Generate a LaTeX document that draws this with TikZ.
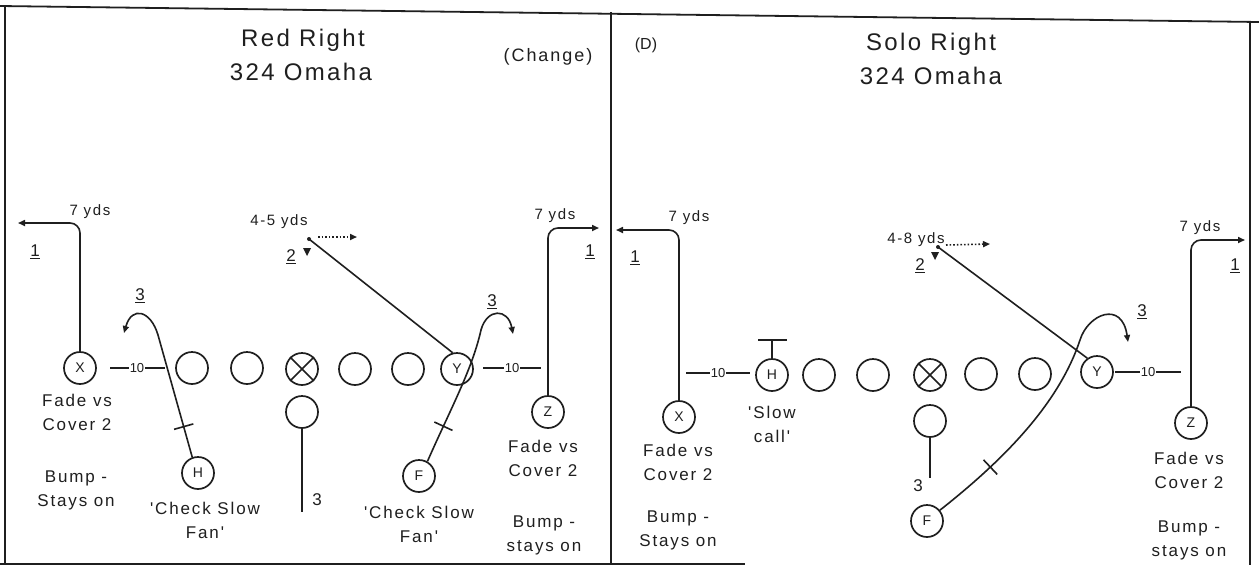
\documentclass[tikz,border=0pt]{standalone}
\usepackage{fontspec}
\setmainfont{Liberation Sans}
\newfontfamily\lsfont[LetterSpace=11]{Liberation Sans}
\newfontfamily\ttlfont[LetterSpace=10]{Liberation Sans}
\usetikzlibrary{arrows.meta}
\newcommand{\myfs}[2]{\fontsize{#1}{#2}\selectfont}
\definecolor{ink}{gray}{0.12}
\tikzset{
  player/.style={circle, draw=ink, line width=1.7pt, minimum size=32pt, inner sep=0pt, text=ink, font=\myfs{14}{14}},
  route/.style={draw=ink, line width=1.6pt},
  arr/.style={-{Triangle[length=7pt,width=6pt]}},
  lbl/.style={align=center, inner sep=0pt, text=ink, font=\lsfont\myfs{17}{24}},
  small/.style={inner sep=0pt, text=ink, font=\lsfont\myfs{15}{15}},
  ten/.style={inner sep=1pt, text=ink, font=\myfs{13}{13}},
  ttl/.style={align=center, inner sep=0pt, text=ink, font=\ttlfont\myfs{24}{32}},
  num/.style={inner sep=0pt, text=ink, font=\myfs{17}{17}},
  border/.style={draw=ink, line width=1.8pt},
  tickmark/.style={sloped, draw=ink, line width=1.6pt, shape=rectangle, minimum width=0pt, minimum height=20pt, inner sep=0pt}
}
\begin{document}
\begin{tikzpicture}[x=1pt,y=-1pt]
\useasboundingbox (0,0) rectangle (1259,571);
\fill[white] (0,0) rectangle (1259,571);
% frame
\draw[border] (0,6) -- (1259,22);
\draw[border] (5,7) -- (5,565);
\draw[border] (611,12) -- (611,565);
\draw[border] (1250,21) -- (1250,565);
\draw[border] (0,564) -- (745,564);

% ===== titles =====
\node[ttl] (tL1) at (303,40) {Red Right};
\node[ttl] (tL2) at (301,72) {324 Omaha};
\node[lbl, font=\lsfont\myfs{18}{18}] (chg) at (548,57) {(Change)};
\node[lbl, font=\myfs{16}{16}] (dd) at (646,45) {(D)};
\node[ttl] (tR1) at (931,44) {Solo Right};
\node[ttl] (tR2) at (931,76) {324 Omaha};

% ===== LEFT PANEL =====
\node[player] (X1) at (80,368) {X};
\node[player] (L1a) at (192,368) {};
\node[player] (L1b) at (247,368) {};
\node[player] (C1) at (302,369) {};
\draw[route] (C1.45) -- (C1.225) (C1.135) -- (C1.315);
\node[player] (L1c) at (355,369) {};
\node[player] (L1d) at (408,369) {};
\node[player] (Y1) at (457,369) {Y};
\node[player] (Z1) at (548,412) {Z};
\node[player] (B1) at (302,412) {};
\node[player] (H1) at (198,473) {H};
\node[player] (F1) at (419,476) {F};

% X route
\coordinate (xl1) at (18,223);
\draw[route,arr,rounded corners=10pt] (X1.north) |- (xl1);
\node[small] (yx1) at (90,212) {7 yds};
\node[num] (n1a) at (35,252) {\underline{1}};

% Z route
\coordinate (zl1) at (599,228);
\draw[route,arr,rounded corners=10pt] (Z1.north) |- (zl1);
\node[small] (yz1) at (555,216) {7 yds};
\node[num] (n1b) at (590,252) {\underline{1}};

% Y route 2
\coordinate (d1) at (309,239);
\draw[route] (Y1.105) -- (d1);
\fill[ink] (d1) circle (2pt);
\coordinate (d1a) at (318,237);
\coordinate (d1b) at (357,237);
\draw[route,dotted,arr] (d1a) -- (d1b);
\fill[ink] (303,248) -- (311,248) -- (307,256) -- cycle;
\node[small] (y45) at (279,222) {4-5 yds};
\node[num] (n2a) at (291,257) {\underline{2}};

% H route 3
\coordinate (h1a) at (158,335);
\coordinate (h1e) at (124,333);
\draw[route,arr] (H1.110) -- node[tickmark,pos=0.25]{} (h1a) .. controls (151,311) and (132,305) .. (h1e);
\node[num] (n3a) at (140,296) {\underline{3}};

% F route 3
\coordinate (f1a) at (481,330);
\coordinate (f1e) at (513,334);
\draw[route] (F1.60) .. controls (450,410) and (472,370) .. node[tickmark,pos=0.24]{} (f1a);
\draw[route,arr] (f1a) .. controls (487,308) and (508,308) .. (f1e);
\node[num] (n3b) at (492,302) {\underline{3}};

% split marks 10
\node[ten] (tn1) at (137,368) {10};
\draw[route] (tn1.west) -- ++(-19,0);
\draw[route] (tn1.east) -- ++(20,0);
\node[ten] (tn2) at (512,368) {10};
\draw[route] (tn2.west) -- ++(-21,0);
\draw[route] (tn2.east) -- ++(21,0);

% back
\coordinate (b1e) at (302,512);
\draw[route] (B1.south) -- (b1e);
\node[num] (n3c) at (317,500) {3};

% labels left
\node[lbl] (lx1) at (77,412) {Fade vs\\Cover 2};
\node[lbl] (lx2) at (76,490) {Bump -\\Stays on};
\node[lbl] (lh1) at (205,520) {'Check Slow\\Fan'};
\node[lbl] (lf1) at (419,524) {'Check Slow\\Fan'};
\node[lbl] (lz1) at (543,458) {Fade vs\\Cover 2};
\node[lbl] (lz2) at (544,535) {Bump -\\stays on};

% ===== RIGHT PANEL =====
\node[player] (X2) at (679,417) {X};
\node[player] (H2) at (772,375) {H};
\node[player] (L2a) at (819,375) {};
\node[player] (L2b) at (873,375) {};
\node[player] (C2) at (930,375) {};
\draw[route] (C2.45) -- (C2.225) (C2.135) -- (C2.315);
\node[player] (L2c) at (981,374) {};
\node[player] (L2d) at (1035,374) {};
\node[player] (Y2) at (1097,372) {Y};
\node[player] (Z2) at (1191,423) {Z};
\node[player] (B2) at (930,421) {};
\node[player] (F2) at (927,521) {F};

% X route
\coordinate (xr1) at (616,230);
\draw[route,arr,rounded corners=10pt] (X2.north) |- (xr1);
\node[small] (yx2) at (689,218) {7 yds};
\node[num] (n1c) at (635,258) {\underline{1}};

% Z route
\coordinate (zr1) at (1245,240);
\draw[route,arr,rounded corners=10pt] (Z2.north) |- (zr1);
\node[small] (yz2) at (1200,228) {7 yds};
\node[num] (n1d) at (1235,266) {\underline{1}};

% H block
\coordinate (hT) at (772,340);
\coordinate (hTl) at (758,340);
\coordinate (hTr) at (787,340);
\draw[route] (H2.north) -- (hT);
\draw[route] (hTl) -- (hTr);

% Y route 2
\coordinate (d2) at (938,247);
\draw[route] (Y2.125) -- (d2);
\fill[ink] (d2) circle (2pt);
\coordinate (d2a) at (946,245);
\coordinate (d2b) at (990,244);
\draw[route,dotted,arr] (d2a) -- (d2b);
\fill[ink] (931,252) -- (939,252) -- (935,260) -- cycle;
\node[small] (y48) at (916,240) {4-8 yds};
\node[num] (n2b) at (920,266) {\underline{2}};

% F route 3
\coordinate (f2a) at (1080,340);
\coordinate (f2e) at (1128,342);
\draw[route] (F2.40) .. controls (1010,455) and (1060,400) .. node[tickmark,pos=0.26]{} (f2a);
\draw[route,arr] (f2a) .. controls (1088,314) and (1122,300) .. (f2e);
\node[num] (n3d) at (1142,312) {\underline{3}};

% split marks 10
\node[ten] (tn3) at (718,373) {10};
\draw[route] (tn3.west) -- ++(-24,0);
\draw[route] (tn3.east) -- ++(24,0);
\node[ten] (tn4) at (1148,372) {10};
\draw[route] (tn4.west) -- ++(-25,0);
\draw[route] (tn4.east) -- ++(25,0);

% back
\coordinate (b2e) at (930,478);
\draw[route] (B2.south) -- (b2e);
\node[num] (n3e) at (918,486) {3};

% labels right
\node[lbl] (lx3) at (678,462) {Fade vs\\Cover 2};
\node[lbl] (lx4) at (678,530) {Bump -\\Stays on};
\node[lbl] (lh2) at (772,424) {'Slow\\call'};
\node[lbl] (lz3) at (1189,470) {Fade vs\\Cover 2};
\node[lbl] (lz4) at (1189,540) {Bump -\\stays on};
\end{tikzpicture}
\end{document}
